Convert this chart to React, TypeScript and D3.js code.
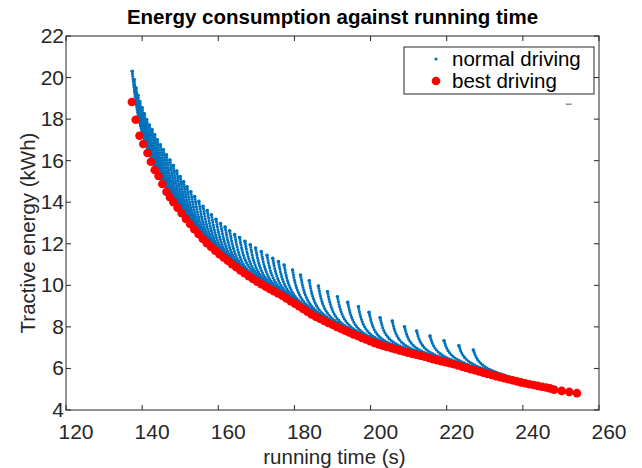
import * as d3 from "d3";

// best driving (Pareto front): running time (s) and tractive energy (kWh)
const bestTime = [
  137.3, 138.3, 139.3, 140.3, 141.4, 142.3, 143.3, 144.3, 145.3, 146.4, 147.3, 148.2, 149.3, 150.4,
  151.5, 152.6, 153.7, 154.8, 155.9, 157.0, 158.1, 159.2, 160.3, 161.4, 162.5, 163.6, 164.7, 165.8,
  166.9, 168.0, 169.1, 170.2, 171.3, 172.4, 173.5, 174.6, 175.7, 176.8, 177.9, 179.0, 180.1, 181.2,
  182.3, 183.4, 184.5, 185.6, 186.7, 187.8, 188.9, 190.0, 191.1, 192.2, 193.3, 194.4, 195.5, 196.6,
  197.7, 198.8, 199.9, 201.0, 202.1, 203.2, 204.3, 205.4, 206.5, 207.6, 208.7, 209.8, 210.9, 212.0,
  213.1, 214.2, 215.3, 216.4, 217.5, 218.6, 219.7, 220.8, 221.9, 223.0, 224.1, 225.2, 226.3, 227.4,
  228.5, 229.6, 230.7, 231.8, 232.9, 234.0, 235.1, 236.2, 237.3, 238.4, 239.5, 240.6, 241.7, 242.8,
  243.9, 245.0, 246.1, 247.1, 248.2, 250.2, 252.2, 254.2,
];
const bestEnergy = [
  18.82, 17.97, 17.2, 16.8, 16.37, 15.95, 15.55, 15.26, 14.88, 14.5, 14.24, 14.0, 13.73, 13.47,
  13.2, 12.95, 12.7, 12.47, 12.24, 12.03, 11.85, 11.67, 11.5, 11.34, 11.18, 11.02, 10.87, 10.72,
  10.58, 10.44, 10.31, 10.18, 10.06, 9.94, 9.83, 9.72, 9.61, 9.5, 9.37, 9.24, 9.12, 8.99,
  8.86, 8.73, 8.6, 8.49, 8.39, 8.29, 8.19, 8.1, 8.0, 7.91, 7.82, 7.73, 7.64, 7.56,
  7.47, 7.39, 7.31, 7.23, 7.16, 7.09, 7.04, 6.98, 6.93, 6.87, 6.82, 6.76, 6.71, 6.66,
  6.61, 6.56, 6.5, 6.45, 6.4, 6.35, 6.3, 6.25, 6.2, 6.14, 6.08, 6.02, 5.96, 5.91,
  5.85, 5.8, 5.74, 5.69, 5.63, 5.58, 5.53, 5.48, 5.43, 5.38, 5.33, 5.29, 5.24, 5.2,
  5.16, 5.12, 5.08, 5.04, 4.98, 4.92, 4.87, 4.81,
];

// normal driving: each strand starts at a top point, bends at a knee and runs into the front
const normalTop: [number, number][] = [
  [137.4, 20.3], [137.9, 19.9], [138.4, 19.5], [138.9, 19.15], [139.4, 18.85], [140.0, 18.55],
  [140.6, 18.25], [141.2, 17.98], [141.9, 17.72], [142.6, 17.48], [143.3, 17.24], [144.0, 17.0],
  [144.8, 16.76], [145.6, 16.52], [146.4, 16.28], [147.3, 16.03], [148.2, 15.76], [149.1, 15.5],
  [150.0, 15.24], [150.9, 14.98], [151.8, 14.74], [152.8, 14.5], [153.8, 14.27], [154.9, 14.04],
  [156.0, 13.8], [157.1, 13.6], [158.2, 13.4], [159.4, 13.18], [160.6, 12.97], [161.8, 12.8],
  [163.0, 12.62], [164.3, 12.45], [165.6, 12.3], [167.0, 12.12], [168.4, 11.95], [169.8, 11.8],
  [171.3, 11.62], [172.8, 11.45], [174.3, 11.3], [175.8, 11.14], [177.3, 10.98], [179.5, 10.74],
  [181.6, 10.5], [183.9, 10.22], [186.3, 9.97], [188.7, 9.69], [191.3, 9.45], [194.0, 9.18],
  [196.8, 8.97], [199.6, 8.7], [202.5, 8.44], [205.7, 8.28], [208.9, 8.01], [212.1, 7.8],
  [215.6, 7.56], [219.3, 7.33], [223.2, 7.09], [227.0, 6.89],
];
const normalKnee: [number, number][] = [
  [138.9, 17.7], [139.4, 17.4], [139.9, 17.2], [140.4, 17.0], [140.9, 16.8], [141.5, 16.55],
  [142.1, 16.3], [142.7, 16.05], [143.4, 15.8], [144.1, 15.56], [144.8, 15.32], [145.5, 15.07],
  [146.3, 14.79], [147.1, 14.55], [147.9, 14.33], [148.8, 14.1], [149.7, 13.88], [150.6, 13.67],
  [151.5, 13.45], [152.4, 13.25], [153.3, 13.04], [154.3, 12.81], [155.3, 12.62], [156.4, 12.39],
  [157.5, 12.2], [158.6, 12.02], [159.7, 11.85], [160.9, 11.66], [162.1, 11.49], [163.3, 11.32],
  [164.5, 11.15], [165.8, 10.98], [167.1, 10.81], [168.5, 10.63], [169.9, 10.46], [171.3, 10.31],
  [172.8, 10.15], [174.3, 10.01], [175.8, 9.85], [177.3, 9.69], [178.8, 9.51], [181.0, 9.26],
  [183.1, 9.02], [185.4, 8.76], [187.8, 8.54], [190.2, 8.33], [192.8, 8.12], [195.5, 7.9],
  [198.3, 7.68], [201.1, 7.47], [204.0, 7.3], [207.2, 7.14], [210.4, 6.98], [213.6, 6.83],
  [217.1, 6.67], [220.8, 6.5], [224.7, 6.3], [228.5, 6.1],
];
const normalEnd: [number, number][] = [
  [143.4, 15.7], [143.9, 15.53], [144.4, 15.36], [144.9, 15.18], [145.4, 15.0], [146.0, 14.8],
  [146.6, 14.6], [147.2, 14.42], [147.9, 14.23], [148.6, 14.05], [149.3, 13.88], [150.0, 13.71],
  [150.8, 13.52], [151.6, 13.33], [152.4, 13.15], [153.3, 12.94], [154.2, 12.73], [155.1, 12.56],
  [156.0, 12.37], [156.9, 12.2], [157.8, 12.05], [158.8, 11.88], [159.8, 11.73], [160.9, 11.56],
  [162.0, 11.4], [163.1, 11.25], [164.2, 11.09], [165.4, 10.93], [166.6, 10.77], [167.8, 10.62],
  [169.0, 10.47], [170.3, 10.32], [173.6, 9.97], [175.0, 9.84], [176.4, 9.69], [177.8, 9.53],
  [179.3, 9.36], [180.8, 9.18], [182.3, 9.01], [183.8, 8.83], [185.3, 8.67], [187.5, 8.46],
  [189.6, 8.28], [191.9, 8.09], [194.3, 7.9], [196.7, 7.7], [199.3, 7.51], [202.0, 7.32],
  [204.8, 7.16], [207.6, 7.02], [211.5, 6.83], [214.7, 6.68], [217.9, 6.53], [221.1, 6.38],
  [224.6, 6.2], [228.3, 6.01], [232.2, 5.82], [236.0, 5.63],
];

const xTicks = [120, 140, 160, 180, 200, 220, 240, 260];
const yTicks = [4, 6, 8, 10, 12, 14, 16, 18, 20, 22];
const seriesNames = ["normal driving", "best driving"];

const BLUE = "#0072BD";
const RED = "#FF0000";
const AXIS = "#262626";
const FONT = "'Liberation Sans', Arial, Helvetica, sans-serif";

export default function App() {
  const W = 642;
  const H = 468;
  const left = 66, right = 599, top = 36, bottom = 410;

  const x = d3.scaleLinear().domain([120, 260]).range([left, right]);
  const y = d3.scaleLinear().domain([4, 22]).range([bottom, top]);

  const strand = d3
    .line<[number, number]>()
    .x((d) => x(d[0]))
    .y((d) => y(d[1]))
    .curve(d3.curveBasis);

  const tick = 5;

  return (
    <svg
      width={W}
      height={H}
      style={{ position: "absolute", left: 0, top: 0, background: "#fff" }}
      fontFamily={FONT}
    >
      <rect x={0} y={0} width={W} height={H} fill="#fff" />

      {/* normal driving strands */}
      <g fill="none" stroke={BLUE} strokeWidth={3.1} strokeLinecap="round" strokeDasharray="0 2.6">
        {normalTop.map((t, i) => (
          <path key={i} d={strand([t, normalKnee[i], normalEnd[i]]) || ""} />
        ))}
      </g>
      <g fill={BLUE}>
        {normalTop.map((t, i) => (
          <circle key={i} cx={x(t[0])} cy={y(t[1])} r={1.8} />
        ))}
      </g>

      {/* best driving */}
      <g fill={RED}>
        {bestTime.map((t, i) => (
          <circle key={i} cx={x(t)} cy={y(bestEnergy[i])} r={4.3} />
        ))}
      </g>

      {/* axes box */}
      <rect x={left} y={top} width={right - left} height={bottom - top} fill="none" stroke={AXIS} strokeWidth={1} />
      <g stroke={AXIS} strokeWidth={1}>
        {xTicks.map((v) => (
          <g key={v}>
            <line x1={x(v)} x2={x(v)} y1={bottom} y2={bottom - tick} />
            <line x1={x(v)} x2={x(v)} y1={top} y2={top + tick} />
          </g>
        ))}
        {yTicks.map((v) => (
          <g key={v}>
            <line x1={left} x2={left + tick} y1={y(v)} y2={y(v)} />
            <line x1={right} x2={right - tick} y1={y(v)} y2={y(v)} />
          </g>
        ))}
      </g>
      <g fill={AXIS} fontSize={21} textAnchor="middle">
        {xTicks.map((v) => (
          <text key={v} x={x(v) + 10} y={bottom + 29}>
            {v}
          </text>
        ))}
      </g>
      <g fill={AXIS} fontSize={21} textAnchor="end">
        {yTicks.map((v) => (
          <text key={v} x={left - 2} y={y(v) + 7}>
            {v}
          </text>
        ))}
      </g>

      {/* labels */}
      <text x={(left + right) / 2} y={24} textAnchor="middle" fontSize={20.5} fontWeight="bold" fill="#000">
        Energy consumption against running time
      </text>
      <text x={(left + right) / 2 + 2} y={464} textAnchor="middle" fontSize={20.5} fill={AXIS}>
        running time (s)
      </text>
      <text
        transform={`translate(35, ${(top + bottom) / 2 + 10}) rotate(-90)`}
        textAnchor="middle"
        fontSize={20.5}
        fill={AXIS}
      >
        Tractive energy (kWh)
      </text>

      {/* legend */}
      <g>
        <rect x={404} y={47} width={190} height={47} fill="#fff" stroke={AXIS} strokeWidth={1} />
        <circle cx={436} cy={59} r={1.6} fill={BLUE} />
        <text x={452} y={66} fontSize={20.5} fill="#000">
          {seriesNames[0]}
        </text>
        <circle cx={436} cy={81} r={4.3} fill={RED} />
        <text x={452} y={88} fontSize={20.5} fill="#000">
          {seriesNames[1]}
        </text>
      </g>

      <line x1={x(251.3)} x2={x(252.8)} y1={y(18.72)} y2={y(18.72)} stroke="#555" strokeWidth={1} />
    </svg>
  );
}
